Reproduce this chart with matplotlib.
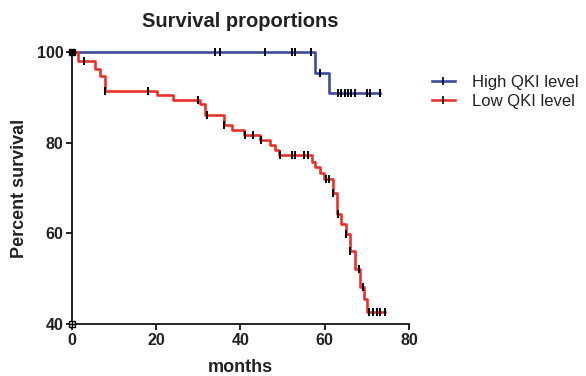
import numpy as np
import matplotlib
matplotlib.use("Agg")
import matplotlib.pyplot as plt
from matplotlib.lines import Line2D

plt.rcParams['font.family'] = ['Liberation Sans', 'DejaVu Sans']

# Kaplan-Meier steps (months, percent survival)
high_t = [0, 57.8, 61.1, 73.2]
high_s = [100, 95.4, 91.0, 91.0]
high_cens = [34.0, 35.1, 45.9, 52.3, 53.0, 56.8, 59.0, 63.1, 63.9, 64.7,
             65.5, 66.3, 67.1, 70.0, 70.7, 73.1]

low_t = [0, 1.6, 5.5, 6.6, 7.9, 20.2, 24.1, 30.5, 31.7, 36.0, 38.0, 40.8,
         44.7, 47.1, 48.3, 49.1, 57.0, 57.8, 59.0, 59.8, 62.0, 62.8, 63.9,
         65.1, 66.1, 67.3, 68.3, 69.3, 70.1, 74.4]
low_s = [100, 97.9, 96.2, 94.6, 91.3, 90.5, 89.3, 88.5, 86.1, 83.9, 82.8,
         81.7, 80.6, 79.5, 78.4, 77.2, 75.8, 74.7, 73.3, 72.0, 68.9, 64.3,
         62.1, 59.9, 56.2, 52.2, 48.2, 45.5, 42.8, 42.8]
low_cens = [2.9, 7.9, 18.0, 29.9, 32.1, 36.0, 41.0, 43.0, 45.0, 49.5, 52.3,
            52.9, 55.2, 56.1, 60.4, 61.0, 62.0, 63.1, 65.1, 66.1, 68.1, 69.1,
            70.5, 71.5, 72.4, 73.2, 74.2]

labels = ['High QKI level', 'Low QKI level']
colors = ['#3a4c9e', '#e8322b']
text_col = '#222222'


def surv_at(t, s, x):
    i = np.searchsorted(t, x, side='right') - 1
    return np.array(s)[i]


fig = plt.figure(figsize=(5.86, 3.76), dpi=100)
ax = fig.add_axes([0.1224, 0.1375, 0.5756, 0.7245])

for t, s, cens, c in [(high_t, high_s, high_cens, colors[0]),
                      (low_t, low_s, low_cens, colors[1])]:
    ax.step(t, s, where='post', color=c, lw=1.9, clip_on=False, zorder=3)
    ax.plot(cens, surv_at(t, s, cens), ls='none', marker='|', ms=5.5,
            mew=1.4, color='black', clip_on=False, zorder=4)

# little square markers at the axis corners
ax.plot([0], [100], marker='s', ms=5, color='black', clip_on=False, zorder=5)
ax.plot([0], [40], marker='s', ms=5, mfc='white', mec='black', mew=1,
        clip_on=False, zorder=5)
ax.plot([0], [40], marker='+', ms=5, color='black', mew=1, clip_on=False, zorder=6)

ax.set_xlim(0, 80)
ax.set_ylim(40, 100)
ax.set_xticks([0, 20, 40, 60, 80])
ax.set_yticks([40, 60, 80, 100])
for sp in ['top', 'right']:
    ax.spines[sp].set_visible(False)
for sp in ['left', 'bottom']:
    ax.spines[sp].set_linewidth(1.3)
    ax.spines[sp].set_color('#111111')
ax.tick_params(direction='out', length=4, width=1.3, colors='#111111',
               labelsize=11.5, pad=2)
for lab in ax.get_xticklabels() + ax.get_yticklabels():
    lab.set_fontweight('bold')
    lab.set_color(text_col)

ax.set_xlabel('months', fontsize=13, fontweight='bold', color=text_col, labelpad=8)
ax.set_ylabel('Percent survival', fontsize=13, fontweight='bold', color=text_col,
              labelpad=6)
ax.set_title('Survival proportions', fontsize=14.5, fontweight='bold',
             color=text_col, pad=18)

handles = [Line2D([], [], color=c, lw=1.9, marker='|', ms=5.5, mew=1.2,
                  mec='black') for c in colors]
fig.legend(handles, labels, loc='upper left', bbox_to_anchor=(0.711, 0.84),
           frameon=False, fontsize=12, handlelength=1.4, handletextpad=1.0,
           labelspacing=0.25, labelcolor=text_col)

fig.savefig('out.png', dpi=100)
